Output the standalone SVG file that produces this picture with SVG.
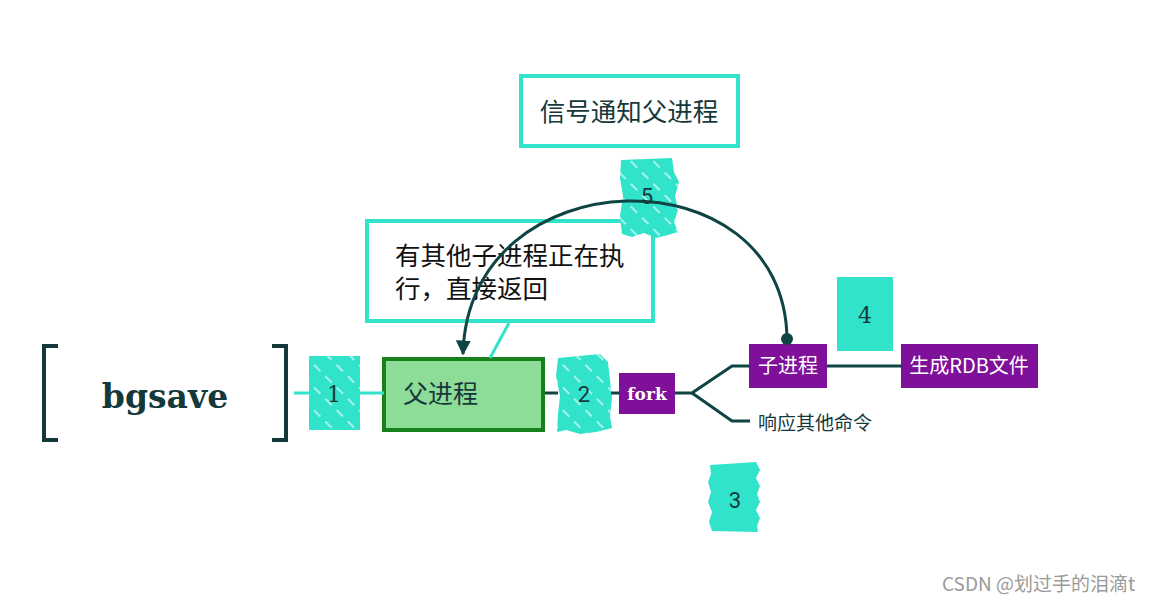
<svg xmlns="http://www.w3.org/2000/svg" width="1155" height="604" viewBox="0 0 1155 604">
<defs>
<pattern id="hatch" width="16" height="16" patternUnits="userSpaceOnUse" patternTransform="rotate(45)">
<rect width="16" height="16" fill="#30e3ca"/>
<line x1="0" y1="4" x2="9" y2="4" stroke="#ffffff" stroke-width="1.3" opacity="0.9"/>
</pattern>
<marker id="arrow" viewBox="0 0 10 10" refX="9" refY="5" markerWidth="5" markerHeight="5" orient="auto" markerUnits="strokeWidth">
<path d="M0,0 L10,5 L0,10 z" fill="#0e4444"/>
</marker>
<marker id="dot" viewBox="0 0 10 10" refX="5" refY="5" markerWidth="4" markerHeight="4" markerUnits="strokeWidth">
<circle cx="5" cy="5" r="5" fill="#0e4444"/>
</marker>
</defs>
<style>
.cjk{font-family:"Noto Sans CJK SC","Noto Sans",sans-serif;}
.dark{fill:#15393b;}
.num{font-size:22px;text-anchor:middle;fill:#15393b;}
.tealbox{fill:#30e3ca;}
.purple{fill:#7f109a;}
.wt{fill:#ffffff;}
.tl{stroke:#30e3ca;stroke-width:3;fill:none;}
.dl{stroke:#0e4444;stroke-width:3;fill:none;}
</style>
<rect width="1155" height="604" fill="#ffffff"/>

<g id="bgsave">
<path d="M58,346 H44 V440 H58" fill="none" stroke="#15393b" stroke-width="4"/>
<path d="M272,346 H286 V440 H272" fill="none" stroke="#15393b" stroke-width="4"/>
<text x="165" y="408" text-anchor="middle" font-family="DejaVu Serif,serif" font-weight="bold" font-size="33" class="dark">bgsave</text>
</g>

<g id="step1">
<rect x="309" y="356" width="51" height="74" fill="url(#hatch)"/>
</g>

<g id="parent">
<rect x="384" y="359" width="159" height="71" fill="#8ddc97" stroke="#16801b" stroke-width="4"/>
<text x="403" y="403" class="cjk dark" font-size="25">父进程</text>
</g>

<g id="step2">
<path d="M558,358 L600,354 L608,362 L610,380 L612,398 L610,416 L612,428 L596,432 L580,434 L566,430 L557,432 L558,414 L560,396 L556,376 z" fill="url(#hatch)"/>
</g>

<g id="fork">
<rect x="619" y="373" width="56" height="41" class="purple"/>
<text x="647" y="400" text-anchor="middle" font-family="DejaVu Serif,serif" font-weight="bold" font-size="17" class="wt">fork</text>
</g>

<g id="child">
<rect x="749" y="344" width="78" height="44" class="purple"/>
<text x="788" y="373" text-anchor="middle" class="cjk wt" font-size="20">子进程</text>
</g>

<g id="rdb">
<rect x="901" y="344" width="137" height="44" class="purple"/>
<text x="969" y="373" text-anchor="middle" class="cjk wt" font-size="20">生成RDB文件</text>
</g>

<g id="respond">
<text x="758" y="430" class="cjk dark" font-size="19">响应其他命令</text>
</g>

<g id="step3">
<path d="M710,465 L756,462 L760,470 L756,478 L760,486 L757,494 L760,502 L756,510 L760,518 L757,526 L758,532 L712,531 L709,522 L712,512 L708,502 L711,492 L708,482 L711,474 z" class="tealbox"/>
<text x="735" y="508" class="num" font-family="Roboto,sans-serif">3</text>
</g>

<g id="step4">
<rect x="837" y="277" width="56" height="74" class="tealbox"/>
<text x="865" y="323" class="num" font-family="DejaVu Serif,serif">4</text>
</g>

<g id="comment">
<rect x="367" y="221" width="286" height="100" fill="#ffffff" stroke="#30e3ca" stroke-width="4"/>
<text class="cjk" font-size="25.5" fill="#111111"><tspan x="395" y="265">有其他子进程正在执</tspan><tspan x="395" y="298">行，直接返回</tspan></text>
</g>

<g id="step5">
<path d="M621,160 L672,158 L674,172 L679,182 L675,196 L678,210 L674,222 L678,232 L668,235 L656,238 L644,233 L632,237 L622,234 L620,216 L623,196 L620,178 z" fill="url(#hatch)"/>
</g>

<g id="signal">
<rect x="521" y="76" width="217" height="70" fill="#ffffff" stroke="#30e3ca" stroke-width="4"/>
<text x="629" y="121" text-anchor="middle" class="cjk dark" font-size="25.5">信号通知父进程</text>
</g>

<g id="connectors">
<line class="tl" x1="294" y1="393" x2="309" y2="393"/>
<line class="tl" x1="360" y1="393" x2="384" y2="393"/>
<line class="dl" x1="545" y1="393" x2="558" y2="393"/>
<line class="dl" x1="611" y1="393" x2="620" y2="393"/>
<polyline class="dl" points="675,393 692,393 732,366 750,366"/>
<polyline class="dl" points="692,393 732,421 750,421"/>
<line class="dl" x1="827" y1="366" x2="902" y2="366"/>
<line class="tl" x1="509" y1="323" x2="490" y2="358"/>
<path class="dl" d="M787,339 C785,150 468,155 463,354" stroke-width="2.5" marker-end="url(#arrow)" marker-start="url(#dot)"/>
</g>

<g id="labels">
<text x="334" y="402" class="num" font-family="DejaVu Serif,serif">1</text>
<text x="584" y="402" class="num" font-family="Roboto,sans-serif">2</text>
<text x="647" y="204" class="num" font-family="Roboto,sans-serif">5</text>
</g>

<text x="942" y="591" class="cjk" font-size="19" fill="#9a9a9a">CSDN @划过手的泪滴t</text>
</svg>
